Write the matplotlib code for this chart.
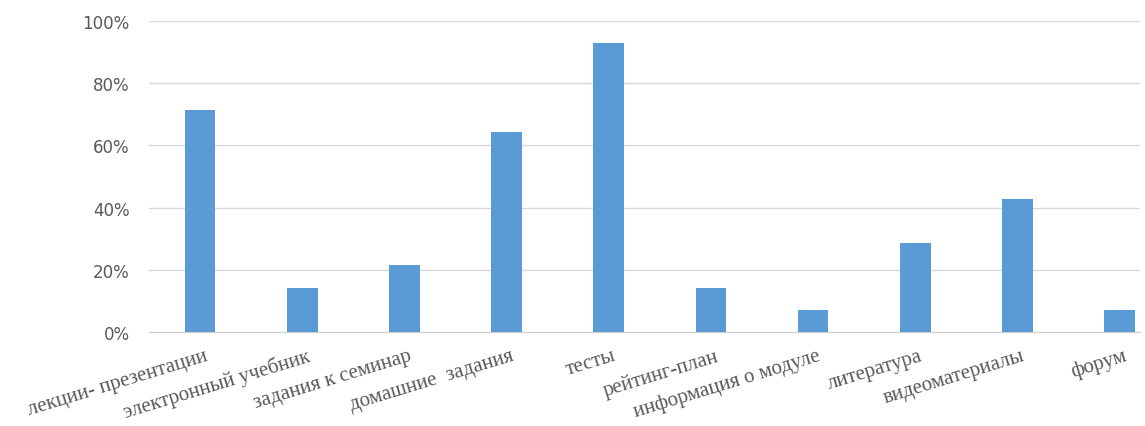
import matplotlib.pyplot as plt
import numpy as np
from matplotlib.ticker import PercentFormatter

categories = ["лекции- презентации", "электронный учебник", "задания к семинар",
              "домашние  задания", "тесты", "рейтинг-план", "информация о модуле",
              "литература", "видеоматериалы", "форум"]
values = [71.4, 14.3, 21.4, 64.3, 92.9, 14.3, 7.1, 28.6, 42.9, 7.1]

fig = plt.figure(figsize=(11.45, 4.27), dpi=100)
ax = fig.add_axes([149/1145, 94/427, (1140-149)/1145, 311/427])

x = np.arange(len(categories))
ax.bar(x, np.array(values) / 100, width=0.3, color="#5b9bd5", zorder=3)

ax.set_xlim(-0.5, 9.2)
ax.set_ylim(0, 1)
ax.set_yticks(np.arange(0, 1.01, 0.2))
ax.yaxis.set_major_formatter(PercentFormatter(1.0, decimals=0))
ax.grid(axis="y", color="#d9d9d9", linewidth=1, zorder=0)
for s in ["top", "right", "left"]:
    ax.spines[s].set_visible(False)
ax.spines["bottom"].set_color("#d0d0d0")
ax.tick_params(axis="y", length=0, pad=14, labelsize=12, labelcolor="#595959")
ax.tick_params(axis="x", length=0)
ax.set_xticks(x)
ax.set_xticklabels([])

# rotated labels, right end at the bar centre
for i, lab in enumerate(categories):
    ax.text(i + 0.04, -0.045, lab, transform=ax.get_xaxis_transform(),
            rotation=17, rotation_mode="anchor", ha="right", va="top",
            fontsize=15, family="Liberation Serif", color="#595959")

plt.savefig("out.png", dpi=100)
